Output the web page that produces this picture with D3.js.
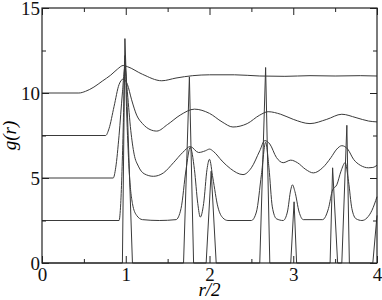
<!DOCTYPE html>
<html lang="en">
<head>
<meta charset="UTF-8">
<title>g(r)</title>
<script src="https://d3js.org/d3.v7.min.js"></script>
<style>
  body { margin: 0; background: #fff; }
  svg { display: block; }
</style>
</head>
<body>
<svg id="canvas"></svg>
<script>
// curves, shifted by 2.5 each (crystal at bottom, liquid at top)
let curveE = [[0,0],[0.96,0],[0.99,13.2],[1.08,0],[1.69,0],[1.76,10.95],[1.81,0],[1.96,0],[2.02,5.4],[2.08,0],
  [2.6,0],[2.67,11.5],[2.72,0],[2.97,0],[3.01,3.6],[3.04,0],[3.44,0],[3.47,5.6],[3.53,0],[3.58,0],[3.64,8.1],[3.67,0],
  [3.95,0],[4.0,2.8]]
let curveD = [[0,2.5],[0.92,2.5],[0.94,3.5],[0.97,8],[0.99,12.2],[1.01,9],[1.04,5.5],[1.08,3.5],[1.13,2.8],[1.2,2.55],
  [1.4,2.5],[1.6,2.55],[1.66,3.2],[1.72,5.5],[1.77,6.8],[1.82,5.5],[1.86,3.5],[1.89,2.7],[1.93,3.5],[1.97,5.5],[2.0,6.1],
  [2.04,5.0],[2.1,3.3],[2.16,2.65],[2.22,2.5],[2.5,2.5],[2.56,3.0],[2.62,5.2],[2.67,7.1],[2.71,5.6],[2.75,3.3],[2.8,2.6],
  [2.88,2.5],[2.93,3.0],[2.97,4.3],[2.99,4.6],[3.02,4.2],[3.07,3.0],[3.12,2.55],[3.35,2.55],[3.42,3.2],[3.47,4.3],[3.52,4.6],
  [3.57,5.4],[3.62,5.9],[3.66,4.8],[3.7,3.2],[3.75,2.6],[3.82,2.5],[3.88,2.65],[3.94,3.1],[4.0,3.9]]
let curveC = [[0,5],[0.85,5],[0.88,5.6],[0.92,7.5],[0.96,10.0],[0.99,11.5],[1.02,10.0],[1.06,7.8],[1.1,6.4],[1.15,5.7],
  [1.22,5.25],[1.33,5.1],[1.45,5.3],[1.57,5.9],[1.68,6.5],[1.77,6.85],[1.87,6.5],[1.95,6.6],[2.0,6.7],[2.05,6.55],[2.15,6.0],
  [2.25,5.55],[2.4,5.2],[2.5,5.6],[2.6,6.6],[2.66,7.2],[2.72,7.0],[2.8,6.2],[2.88,5.9],[2.97,6.05],[3.05,5.9],[3.15,5.5],
  [3.24,5.3],[3.35,5.6],[3.45,6.2],[3.52,6.7],[3.58,6.9],[3.65,6.7],[3.72,6.1],[3.8,5.75],[3.9,5.6],[3.95,5.62],[4,5.75]]
let curveB = [[0,7.5],[0.76,7.5],[0.8,7.9],[0.86,9.2],[0.92,10.5],[0.97,10.82],[1.02,10.5],[1.07,9.6],[1.13,8.7],
  [1.2,8.2],[1.29,7.85],[1.37,7.76],[1.5,8.15],[1.65,8.7],[1.82,9.05],[2.0,8.8],[2.15,8.3],[2.28,8.0],[2.45,8.2],[2.6,8.7],
  [2.7,8.9],[2.85,8.75],[3.0,8.45],[3.2,8.2],[3.4,8.45],[3.58,8.75],[3.75,8.55],[3.9,8.35],[4,8.3]]
let curveA = [[0,10],[0.44,10],[0.52,10.1],[0.62,10.35],[0.72,10.7],[0.82,11.05],[0.9,11.4],[0.97,11.62],[1.02,11.55],
  [1.2,11.1],[1.43,10.72],[1.6,10.88],[1.8,11.02],[2.0,11.07],[2.3,11.07],[2.6,11.0],[2.9,10.98],[3.2,11.02],[3.5,11.0],
  [3.8,11.02],[4,11.0]]

let xTicks = [0,1,2,3,4]
let xMinor = [0.5,1.5,2.5,3.5]
let yTicks = [0,5,10,15]
let yMinor = [2.5,7.5,12.5]

let width = 382
let height = 300
let padL = 42, padR = 377, padT = 8, padB = 263
let serif = '"Liberation Serif", "Times New Roman", Times, "DejaVu Serif", serif'

let svg = d3.select("#canvas").attr("width", width).attr("height", height)

let xScale = d3.scaleLinear().domain([0,4]).range([padL,padR])
let yScale = d3.scaleLinear().domain([0,15]).range([padB,padT])

let line = d3.line().x(d => xScale(d[0])).y(d => yScale(d[1]))
let smooth = d3.line().x(d => xScale(d[0])).y(d => yScale(d[1])).curve(d3.curveMonotoneX)

let plot = svg.append("g")
plot.append("path").datum(curveE).attr("d", line)
plot.selectAll(".sm").data([curveD, curveC, curveB, curveA]).enter()
  .append("path").attr("class","sm").attr("d", smooth)
plot.selectAll("path").attr("fill","none").attr("stroke","#3a3a3a").attr("stroke-width",1)

// axes, ticks pointing inward
let addAxis = (ax, tr) => {
  let g = svg.append("g").attr("transform", tr).call(ax)
  g.select(".domain").remove()
  g.selectAll(".tick line").attr("stroke", "#222")
  g.selectAll(".tick text").style("font-family", serif).style("font-size", "19px").attr("fill", "#111")
  return g
}
addAxis(d3.axisBottom(xScale).tickValues(xTicks).tickSize(-7).tickPadding(5).tickFormat(d3.format("d")), `translate(0,${padB})`)
addAxis(d3.axisBottom(xScale).tickValues(xMinor).tickSize(-4).tickFormat(""), `translate(0,${padB})`)
addAxis(d3.axisTop(xScale).tickValues(xTicks).tickSize(-7).tickFormat(""), `translate(0,${padT})`)
addAxis(d3.axisTop(xScale).tickValues(xMinor).tickSize(-4).tickFormat(""), `translate(0,${padT})`)
addAxis(d3.axisLeft(yScale).tickValues(yTicks).tickSize(-7).tickPadding(2).tickFormat(d3.format("d")), `translate(${padL},0)`)
addAxis(d3.axisLeft(yScale).tickValues(yMinor).tickSize(-4).tickFormat(""), `translate(${padL},0)`)
addAxis(d3.axisRight(yScale).tickValues(yTicks).tickSize(-7).tickFormat(""), `translate(${padR},0)`)
addAxis(d3.axisRight(yScale).tickValues(yMinor).tickSize(-4).tickFormat(""), `translate(${padR},0)`)

svg.append("rect").attr("x", padL).attr("y", padT).attr("width", padR-padL).attr("height", padB-padT)
  .attr("fill","none").attr("stroke","#222").attr("stroke-width",1.2)

svg.append("text").attr("x", (padL+padR)/2).attr("y", 296)
  .style("font-family", serif).style("font-size", "19px").style("font-style", "italic")
  .attr("text-anchor","middle").text("r/2")
svg.append("text").attr("transform", `translate(16,${(padT+padB)/2}) rotate(-90)`)
  .style("font-family", serif).style("font-size", "19px").style("font-style", "italic")
  .attr("text-anchor","middle").text("g(r)")
</script>
</body>
</html>
